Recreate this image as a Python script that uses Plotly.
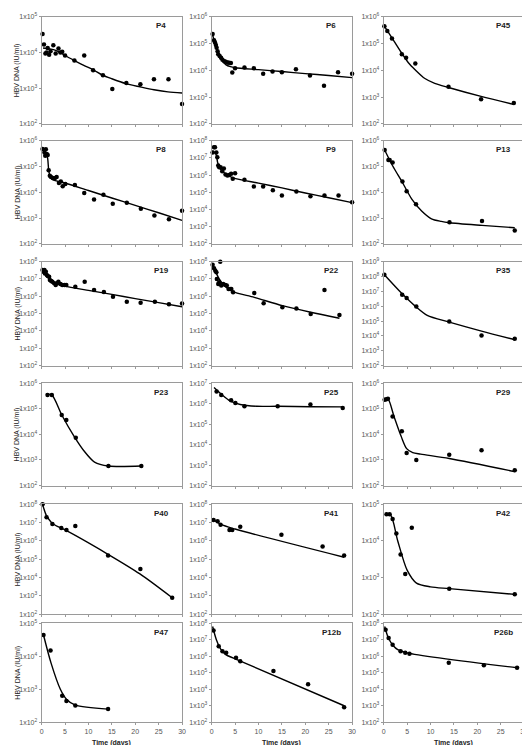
import plotly.graph_objects as go

# ---------------- data (days, HBV DNA IU/ml) ----------------
panel_names = ["P4", "P6", "P45", "P8", "P9", "P13", "P19", "P22", "P35",
               "P23", "P25", "P29", "P40", "P41", "P42", "P47", "P12b", "P26b"]
y_top_exponent = [5, 6, 6, 6, 8, 6, 8, 8, 9, 6, 7, 6, 8, 8, 5, 5, 8, 8]
x_tick_days = [0, 5, 10, 15, 20, 25, 30]

p4_days = [0.2, 0.5, 0.8, 1.05, 1.3, 1.6, 1.9, 2.5, 3.0, 3.6, 4.0, 4.4, 5.0, 7.0, 9.1, 11.0, 13.1, 15.1, 18.1, 21.1, 24.0, 27.1, 30.0]
p4_hbv = [3.3e4, 1.7e4, 9.5e3, 1.0e4, 1.35e4, 8.7e3, 1.1e4, 1.6e4, 9.5e3, 1.3e4, 1.0e4, 1.05e4, 8.3e3, 6.0e3, 8.3e3, 3.2e3, 2.3e3, 9.5e2, 1.4e3, 1.3e3, 1.8e3, 1.8e3, 3.6e2]
p4_fit_days = [0.3, 1, 2, 3, 4, 5, 7, 9, 11, 13, 15, 18, 21, 24, 27, 30]
p4_fit_hbv = [1.35e4, 1.3e4, 1.25e4, 1.15e4, 1.0e4, 8.3e3, 6.0e3, 4.4e3, 3.3e3, 2.35e3, 1.85e3, 1.35e3, 1.1e3, 9.1e2, 7.9e2, 7.4e2]

p6_days = [0.2, 0.5, 0.7, 0.9, 1.05, 1.26, 1.4, 1.7, 2.0, 2.3, 2.7, 3.0, 3.4, 3.7, 4.1, 4.4, 5.0, 7.0, 9.0, 11.0, 13.0, 15.0, 18.0, 21.0, 24.0, 27.0, 30.0]
p6_hbv = [2.3e5, 1.35e5, 1.1e5, 8.9e4, 7.1e4, 5.2e4, 4.0e4, 3.5e4, 3.0e4, 2.5e4, 2.2e4, 2.1e4, 2.0e4, 1.95e4, 1.9e4, 8.3e3, 1.2e4, 1.3e4, 1.2e4, 7.6e3, 9.1e3, 8.5e3, 1.1e4, 6.5e3, 2.7e3, 8.5e3, 7.6e3]
p6_fit_days = [0.1, 0.5, 1, 1.5, 2, 2.5, 3, 4, 5, 10, 15, 20, 25, 30]
p6_fit_hbv = [2.4e5, 1.4e5, 7.6e4, 4.2e4, 2.7e4, 2.0e4, 1.66e4, 1.38e4, 1.26e4, 1.07e4, 9.1e3, 7.6e3, 6.5e3, 5.4e3]

p45_days = [0.14, 0.77, 1.76, 3.87, 4.78, 6.75, 13.84, 20.8, 27.8]
p45_hbv = [4.5e5, 3.0e5, 1.55e5, 4.0e4, 3.0e4, 1.8e4, 2.45e3, 8.3e2, 6.0e2]
p45_fit_days = [0.1, 1.76, 3.87, 5.27, 6.7, 8.8, 10.9, 13.84, 20.8, 27.8]
p45_fit_hbv = [4.6e5, 1.66e5, 4.4e4, 1.95e4, 1.07e4, 5.0e3, 3.3e3, 2.3e3, 1.07e3, 5.4e2]

p8_days = [0.2, 0.6, 0.9, 0.77, 1.1, 1.3, 1.5, 1.75, 2.0, 2.4, 2.8, 3.2, 3.7, 4.1, 4.5, 5.06, 7.1, 9.1, 11.2, 13.2, 15.2, 18.2, 21.2, 24.1, 27.2, 30.0]
p8_hbv = [4.8e5, 3.5e5, 4.7e5, 2.6e5, 3.1e5, 2.8e5, 7.1e4, 4.4e4, 3.9e4, 3.6e4, 3.5e4, 3.9e4, 2.3e4, 2.6e4, 1.7e4, 2.1e4, 1.9e4, 9.3e3, 5.2e3, 8.1e3, 3.6e3, 3.9e3, 2.3e3, 1.26e3, 8.9e2, 1.9e3]
p8_fit_days = [0.2, 1.0, 1.3, 1.5, 1.75, 2.0, 2.7, 5.0, 10, 15, 20, 25, 30]
p8_fit_hbv = [4.2e5, 3.3e5, 2.0e5, 7.4e4, 4.5e4, 3.5e4, 2.9e4, 2.3e4, 1.17e4, 6.0e3, 3.1e3, 1.6e3, 8.1e2]

p9_days = [0.2, 0.5, 0.7, 1.0, 1.2, 1.4, 1.6, 1.9, 2.25, 2.6, 2.95, 3.37, 3.72, 4.15, 4.5, 5.0, 7.0, 9.0, 11.0, 13.07, 15.0, 18.1, 21.1, 24.1, 27.1, 30.0]
p9_hbv = [2.1e7, 4.2e7, 4.2e7, 2.1e7, 1.1e7, 3.6e6, 2.9e6, 2.9e6, 1.7e6, 2.4e6, 1.1e6, 9.5e5, 1.0e6, 1.2e6, 6.2e5, 1.3e6, 5.4e5, 2.2e5, 2.2e5, 1.3e5, 6.5e4, 1.1e5, 5.9e4, 6.5e4, 6.5e4, 2.6e4]
p9_fit_days = [0.2, 0.9, 1.26, 1.6, 2.46, 3.5, 4.9, 10, 15, 20, 25, 30]
p9_fit_hbv = [2.6e7, 1.7e7, 5.6e6, 2.9e6, 1.5e6, 9.5e5, 6.5e5, 3.4e5, 1.8e5, 9.1e4, 4.8e4, 2.5e4]

p13_days = [0.2, 1.0, 1.26, 1.9, 4.0, 4.9, 6.9, 14.05, 21.0, 28.0]
p13_hbv = [4.4e5, 1.8e5, 1.8e5, 1.45e5, 2.6e4, 1.1e4, 3.4e3, 6.9e2, 7.6e2, 3.3e2]
p13_fit_days = [0.2, 1.9, 4, 6, 8.1, 10.2, 12.3, 14.05, 21, 28]
p13_fit_hbv = [4.4e5, 1.07e5, 2.4e4, 5.4e3, 1.86e3, 9.3e2, 7.4e2, 6.6e2, 5.2e2, 4.2e2]

p19_days = [0.2, 0.4, 0.6, 0.7, 0.9, 1.1, 1.3, 1.6, 1.76, 2.04, 2.3, 2.67, 3.0, 3.3, 3.58, 4.0, 4.4, 4.9, 5.27, 7.2, 9.2, 11.2, 13.3, 15.25, 18.2, 21.15, 24.2, 27.2, 30.0]
p19_hbv = [3.3e7, 2.6e7, 3.3e7, 2.1e7, 2.6e7, 1.7e7, 1.5e7, 1.35e7, 8.7e6, 7.6e6, 6.9e6, 5.6e6, 4.5e6, 5.6e6, 6.9e6, 5.1e6, 4.5e6, 4.5e6, 4.5e6, 3.5e6, 6.9e6, 2.3e6, 1.8e6, 9.3e5, 4.8e5, 4.3e5, 4.8e5, 3.5e5, 3.9e5]
p19_fit_days = [0.2, 0.8, 1.6, 2.67, 4.4, 5, 10, 15, 20, 25, 30]
p19_fit_hbv = [3.0e7, 2.0e7, 1.07e7, 6.0e6, 4.5e6, 3.9e6, 2.2e6, 1.3e6, 7.4e5, 4.3e5, 2.5e5]

p22_days = [0.2, 0.5, 0.77, 1.0, 1.1, 1.4, 1.6, 1.83, 2.04, 2.46, 2.9, 3.23, 3.6, 3.94, 4.2, 4.57, 9.1, 11.1, 15.1, 18.1, 21.15, 24.1, 27.3]
p22_hbv = [6.5e7, 4.2e7, 3.0e7, 2.4e7, 1.0e7, 5.1e6, 6.5e6, 1.0e8, 4.2e6, 5.1e6, 4.5e6, 4.2e6, 2.6e6, 2.6e6, 2.6e6, 1.7e6, 1.55e6, 4.0e5, 2.3e5, 2.0e5, 9.5e4, 2.3e6, 8.3e4]
p22_fit_days = [0.2, 0.9, 1.6, 2.67, 4.4, 9.1, 15.1, 21.15, 27.3]
p22_fit_hbv = [6.5e7, 2.4e7, 1.0e7, 4.2e6, 1.9e6, 8.7e5, 2.9e5, 1.2e5, 5.4e4]

p35_days = [0.14, 3.94, 4.9, 6.96, 14.0, 20.9, 28.0]
p35_hbv = [1.3e8, 5.9e6, 3.5e6, 9.5e5, 9.3e4, 1.07e4, 6.5e3]
p35_fit_days = [0.14, 3.94, 6.96, 9.3, 14, 20.9, 28]
p35_fit_hbv = [1.3e8, 6.8e6, 8.7e5, 2.4e5, 8.5e4, 2.1e4, 5.5e3]

p23_days = [1.26, 2.18, 4.29, 5.27, 7.3, 14.27, 21.3]
p23_hbv = [3.5e5, 3.5e5, 5.8e4, 3.7e4, 7.4e3, 5.8e2, 5.8e2]
p23_fit_days = [0.9, 2.2, 4.3, 7.0, 9.2, 11.3, 14.27, 21.3]
p23_fit_hbv = [3.8e5, 3.5e5, 5.8e4, 8.1e3, 2.1e3, 8.3e2, 5.8e2, 5.8e2]

p25_days = [1.05, 2.04, 4.15, 5.06, 7.0, 14.1, 21.1, 28.0]
p25_hbv = [4.0e6, 2.7e6, 1.5e6, 1.1e6, 7.6e5, 7.6e5, 9.3e5, 6.3e5]
p25_fit_days = [0.5, 2.04, 4.0, 6.1, 9.6, 14.1, 21, 28]
p25_fit_hbv = [6.3e6, 3.0e6, 1.35e6, 9.3e5, 7.6e5, 7.6e5, 7.2e5, 7.1e5]

p29_days = [0.2, 0.56, 0.9, 1.9, 3.87, 4.9, 6.96, 14.0, 20.9, 28.0]
p29_hbv = [2.3e5, 2.4e5, 2.5e5, 5.1e4, 1.35e4, 1.9e3, 1.0e3, 1.6e3, 2.4e3, 4.0e2]
p29_fit_days = [0.2, 0.9, 2.2, 3.7, 4.9, 6.2, 7.9, 14, 28]
p29_fit_hbv = [2.3e5, 2.5e5, 5.1e4, 8.7e3, 2.8e3, 1.95e3, 1.7e3, 1.15e3, 3.5e2]

p40_days = [0.2, 1.05, 2.3, 4.2, 5.3, 7.2, 14.2, 21.1, 27.9]
p40_hbv = [1.0e8, 2.0e7, 8.5e6, 5.1e6, 4.0e6, 6.6e6, 1.6e5, 3.0e4, 8.0e2]
p40_fit_days = [0.2, 1, 2, 3, 5, 14, 21, 27.9]
p40_fit_hbv = [1.0e8, 2.5e7, 1.1e7, 7.0e6, 4.0e6, 2.0e5, 1.6e4, 8.0e2]

p41_days = [0.4, 1.26, 1.9, 3.8, 4.4, 6.1, 14.9, 23.7, 28.3]
p41_hbv = [1.4e7, 1.2e7, 7.6e6, 4.0e6, 4.0e6, 5.9e6, 2.2e6, 5.0e5, 1.6e5]
p41_fit_days = [0.2, 2, 5, 28.3]
p41_fit_hbv = [1.6e7, 8.0e6, 4.5e6, 1.3e5]

p42_days = [0.6, 1.26, 1.9, 2.7, 3.6, 4.6, 6.0, 14.0, 28.0]
p42_hbv = [5.4e4, 5.4e4, 4.0e4, 1.6e4, 4.3e3, 1.26e3, 2.3e4, 5.0e2, 3.5e2]
p42_fit_days = [0.5, 1.5, 3, 5, 7, 10, 14, 28]
p42_fit_hbv = [5.4e4, 5.0e4, 1.0e4, 1.6e3, 7.1e2, 5.6e2, 5.0e2, 3.5e2]

p47_days = [0.4, 1.9, 4.4, 5.3, 7.2, 14.2]
p47_hbv = [4.4e4, 1.5e4, 6.3e2, 4.4e2, 3.2e2, 2.5e2]
p47_fit_days = [0.4, 2, 4, 5.3, 7.2, 14.2]
p47_fit_hbv = [4.4e4, 6.3e3, 1.0e3, 5.0e2, 3.3e2, 2.5e2]

p12b_days = [0.4, 1.5, 2.3, 3.1, 5.2, 6.1, 13.2, 20.6, 28.3]
p12b_hbv = [3.6e7, 4.0e6, 2.0e6, 1.6e6, 8.0e5, 5.0e5, 1.26e5, 2.0e4, 8.0e2]
p12b_fit_days = [0.2, 1, 2, 3, 5, 28.3]
p12b_fit_hbv = [6.3e7, 1.0e7, 2.5e6, 1.26e6, 7.0e5, 1.0e3]

p26b_days = [0.4, 1.05, 1.9, 3.6, 4.6, 5.5, 13.9, 21.4, 28.5]
p26b_hbv = [4.0e7, 1.26e7, 5.0e6, 2.0e6, 1.6e6, 1.4e6, 4.0e5, 2.8e5, 2.0e5]
p26b_fit_days = [0.2, 1, 2, 3, 5, 28.5]
p26b_fit_hbv = [6.3e7, 1.26e7, 4.5e6, 2.5e6, 1.6e6, 2.0e5]

panel_days = [p4_days, p6_days, p45_days, p8_days, p9_days, p13_days, p19_days, p22_days, p35_days,
              p23_days, p25_days, p29_days, p40_days, p41_days, p42_days, p47_days, p12b_days, p26b_days]
panel_hbv = [p4_hbv, p6_hbv, p45_hbv, p8_hbv, p9_hbv, p13_hbv, p19_hbv, p22_hbv, p35_hbv,
             p23_hbv, p25_hbv, p29_hbv, p40_hbv, p41_hbv, p42_hbv, p47_hbv, p12b_hbv, p26b_hbv]
panel_fit_days = [p4_fit_days, p6_fit_days, p45_fit_days, p8_fit_days, p9_fit_days, p13_fit_days,
                  p19_fit_days, p22_fit_days, p35_fit_days, p23_fit_days, p25_fit_days, p29_fit_days,
                  p40_fit_days, p41_fit_days, p42_fit_days, p47_fit_days, p12b_fit_days, p26b_fit_days]
panel_fit_hbv = [p4_fit_hbv, p6_fit_hbv, p45_fit_hbv, p8_fit_hbv, p9_fit_hbv, p13_fit_hbv,
                 p19_fit_hbv, p22_fit_hbv, p35_fit_hbv, p23_fit_hbv, p25_fit_hbv, p29_fit_hbv,
                 p40_fit_hbv, p41_fit_hbv, p42_fit_hbv, p47_fit_hbv, p12b_fit_hbv, p26b_fit_hbv]

# ---------------- layout geometry (pixels) ----------------
W, H = 530, 745
col_left = [32, 204, 378]
col_w = 142
row_top = [5, 130, 252, 375, 497, 617]
row_bot = [113, 234, 357, 478, 608, 717]

FONT = "Arial, Liberation Sans, sans-serif"
AX = "#9a9a9a"
TICKC = "#555555"

fig = go.Figure()
layout_axes = {}
annotations = []

for i, name in enumerate(panel_names):
    r, c = divmod(i, 3)
    k = "" if i == 0 else str(i + 1)
    x0 = col_left[c] / W
    x1 = (col_left[c] + col_w) / W
    y1 = 1 - row_top[r] / H
    y0 = 1 - row_bot[r] / H
    top = y_top_exponent[i]

    fig.add_trace(go.Scatter(
        x=panel_fit_days[i], y=panel_fit_hbv[i], mode="lines",
        line=dict(color="black", width=1.4, shape="spline", smoothing=0.8),
        xaxis="x" + k, yaxis="y" + k, showlegend=False, hoverinfo="skip"))
    fig.add_trace(go.Scatter(
        x=panel_days[i], y=panel_hbv[i], mode="markers",
        marker=dict(color="black", size=4.5), cliponaxis=False,
        xaxis="x" + k, yaxis="y" + k, showlegend=False))

    exps = list(range(2, top + 1))
    layout_axes["xaxis" + k] = dict(
        domain=[x0, x1], range=[0, 30], anchor="y" + k,
        tickvals=x_tick_days, ticktext=[str(d) for d in x_tick_days],
        showticklabels=(r == 5), ticks="outside", ticklen=2, tickcolor=AX,
        tickfont=dict(family=FONT, size=7, color=TICKC),
        showline=True, mirror=True, linecolor=AX, linewidth=1,
        showgrid=False, zeroline=False, fixedrange=True)
    layout_axes["yaxis" + k] = dict(
        domain=[y0, y1], type="log", range=[2, top], anchor="x" + k,
        tickvals=[10 ** e for e in exps],
        ticktext=["1x10<sup>%d</sup>" % e for e in exps],
        ticks="outside", ticklen=2, tickcolor=AX,
        tickfont=dict(family=FONT, size=7, color=TICKC),
        showline=True, mirror=True, linecolor=AX, linewidth=1,
        showgrid=False, zeroline=False, fixedrange=True)

    annotations.append(dict(
        text="<b>%s</b>" % name, x=(col_left[c] + col_w - 21) / W, y=1 - (row_top[r] + 9) / H,
        xref="paper", yref="paper", showarrow=False, xanchor="center", yanchor="middle",
        font=dict(family=FONT, size=8, color="#222")))

    if c == 0:
        annotations.append(dict(
            text="HBV DNA (IU/ml)", x=8 / W, y=1 - (row_top[r] + row_bot[r]) / 2 / H,
            xref="paper", yref="paper", showarrow=False, textangle=-90,
            xanchor="center", yanchor="middle",
            font=dict(family=FONT, size=7, color="#222")))

    if r == 5:
        annotations.append(dict(
            text="<b>Time (days)</b>", x=(col_left[c] + col_w / 2) / W, y=1 - 738 / H,
            xref="paper", yref="paper", showarrow=False, xanchor="center", yanchor="middle",
            borderpad=0,
            font=dict(family=FONT, size=7, color="#222")))

fig.update_layout(
    width=W, height=H, margin=dict(l=0, r=0, t=0, b=0),
    paper_bgcolor="white", plot_bgcolor="white",
    annotations=annotations, showlegend=False, **layout_axes)

fig.write_html("out.html", config={"displayModeBar": False})
